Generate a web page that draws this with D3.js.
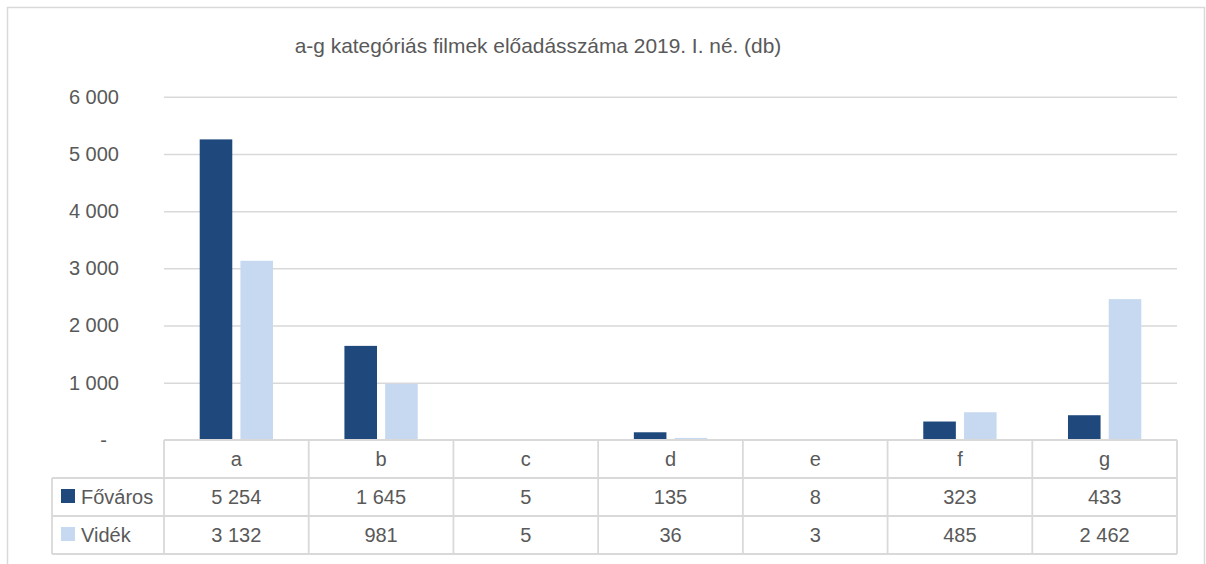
<!DOCTYPE html>
<html>
<head>
<meta charset="utf-8">
<script src="https://cdn.jsdelivr.net/npm/d3@7"></script>
<style>
  html, body { margin: 0; padding: 0; background: #fff; }
  svg text { font-family: "Liberation Sans", Arial, sans-serif; fill: #595959; }
</style>
</head>
<body>
<div id="chart" style="width:1206px;height:564px"></div>
<script>
const title = "a-g kategóriás filmek előadásszáma 2019. I. né. (db)";
const categories = ["a", "b", "c", "d", "e", "f", "g"];
const seriesNames = ["Főváros", "Vidék"];
const fovaros = [5254, 1645, 5, 135, 8, 323, 433];
const videk = [3132, 981, 5, 36, 3, 485, 2462];
const yTicks = [0, 1000, 2000, 3000, 4000, 5000, 6000];

const colors = ["#1F497D", "#C6D9F1"];
const gridColor = "#D9D9D9";
const values = [fovaros, videk];

const W = 1206, H = 564;
const plot = { left: 164, right: 1177, top: 96.7, bottom: 440 };
const rowH = 38;
const legendLeft = 52;
const labelSize = "20px";

const hu = d3.formatLocale({ decimal: ",", thousands: " ", grouping: [3], currency: ["", " Ft"] });
const fmt = hu.format(",d");

const svg = d3.select("#chart").append("svg")
    .attr("width", W)
    .attr("height", H);

// chart border
svg.append("rect")
    .attr("x", 7.5).attr("y", 7.5)
    .attr("width", 1197).attr("height", 600)
    .attr("fill", "none")
    .attr("stroke", gridColor)
    .attr("stroke-width", 1.5);

svg.append("text")
    .attr("x", 538)
    .attr("y", 53)
    .attr("text-anchor", "middle")
    .style("font-size", "20.9px")
    .text(title);

const x = d3.scaleBand()
    .domain(categories)
    .range([plot.left, plot.right]);

const xInner = d3.scaleBand()
    .domain(seriesNames)
    .range([35.7, x.bandwidth() - 35.7])
    .paddingInner(0.2);

const y = d3.scaleLinear()
    .domain([0, 6000])
    .range([plot.bottom, plot.top]);

// gridlines
const grid = svg.append("g")
    .attr("transform", `translate(${plot.left},0)`)
    .call(d3.axisLeft(y).tickValues(yTicks.slice(1)).tickSize(-(plot.right - plot.left)).tickFormat(""));
grid.select(".domain").remove();
grid.selectAll("line").attr("stroke", gridColor).attr("stroke-width", 1.5);

// y labels
const yAxis = svg.append("g")
    .attr("transform", `translate(119,0)`)
    .call(d3.axisLeft(y).tickValues(yTicks).tickSize(0).tickPadding(0)
        .tickFormat(d => d === 0 ? "-" : fmt(d)));
yAxis.select(".domain").remove();
yAxis.selectAll("text")
    .attr("fill", "#595959")
    .style("font-size", labelSize)
    .attr("x", d => d === 0 ? -12 : 0);

// bars
const groups = svg.append("g").selectAll("g")
    .data(seriesNames)
    .join("g")
    .attr("fill", (d, i) => colors[i]);

groups.selectAll("rect")
    .data((s, i) => categories.map((c, j) => ({ c, s, v: values[i][j] })))
    .join("rect")
    .attr("x", d => x(d.c) + xInner(d.s))
    .attr("width", xInner.bandwidth())
    .attr("y", d => y(d.v))
    .attr("height", d => y(0) - y(d.v));

// data table
const table = svg.append("g")
    .attr("stroke", gridColor)
    .attr("stroke-width", 1.8)
    .attr("fill", "none");

const tTop = plot.bottom;
const tBottom = tTop + rowH * 3;

table.append("line")
    .attr("x1", plot.left).attr("x2", plot.right)
    .attr("y1", tTop).attr("y2", tTop);
for (let r = 1; r <= 3; r++) {
    table.append("line")
        .attr("x1", legendLeft).attr("x2", plot.right)
        .attr("y1", tTop + rowH * r).attr("y2", tTop + rowH * r);
}
table.append("line")
    .attr("x1", legendLeft).attr("x2", legendLeft)
    .attr("y1", tTop + rowH).attr("y2", tBottom);
categories.forEach(c => {
    table.append("line")
        .attr("x1", x(c)).attr("x2", x(c))
        .attr("y1", tTop).attr("y2", tBottom);
});
table.append("line")
    .attr("x1", plot.right).attr("x2", plot.right)
    .attr("y1", tTop).attr("y2", tBottom);

const cellText = svg.append("g")
    .attr("text-anchor", "middle")
    .style("font-size", labelSize);

cellText.selectAll("text.cat")
    .data(categories)
    .join("text")
    .attr("class", "cat")
    .attr("x", d => x(d) + x.bandwidth() / 2)
    .attr("y", tTop + rowH / 2 + 7)
    .text(d => d);

seriesNames.forEach((s, i) => {
    const rowY = tTop + rowH * (i + 1);
    cellText.selectAll(`text.v${i}`)
        .data(values[i])
        .join("text")
        .attr("class", `v${i}`)
        .attr("x", (d, j) => x(categories[j]) + x.bandwidth() / 2)
        .attr("y", rowY + rowH / 2 + 7)
        .text(d => fmt(d));

    svg.append("rect")
        .attr("x", 61).attr("y", rowY + 11)
        .attr("width", 14).attr("height", 14)
        .attr("fill", colors[i]);
    svg.append("text")
        .attr("x", 81)
        .attr("y", rowY + rowH / 2 + 7)
        .style("font-size", labelSize)
        .text(s);
});
</script>
</body>
</html>
